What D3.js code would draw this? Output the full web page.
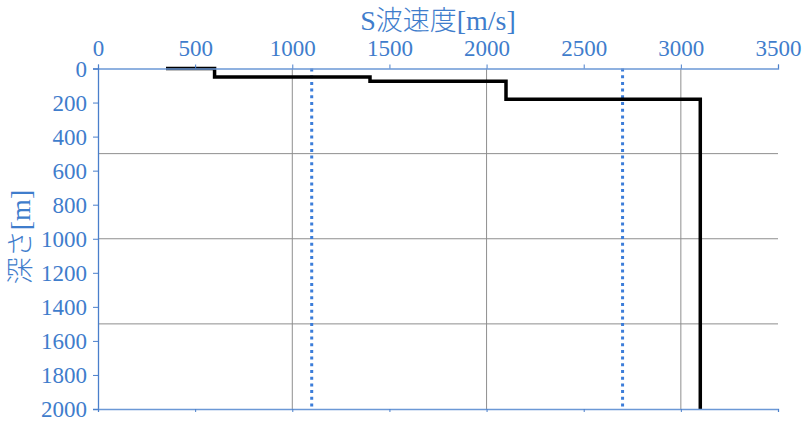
<!DOCTYPE html>
<html><head><meta charset="utf-8">
<script src="https://cdn.jsdelivr.net/npm/d3@7/dist/d3.min.js"></script>
<style>
body{margin:0;background:#fff;} svg{display:block;}
</style>
</head><body>
<svg id="c" width="810" height="426"></svg>
<script>
// Step profile: S-wave velocity [m/s] vs depth [m]
const velocity = [350, 600, 600, 1400, 1400, 2100, 2100, 3100, 3100];
const depth    = [0,   0,   50,  50,   75,   75,   180,  180,  2000];
// Reference velocities (dotted vertical lines)
const refVelocity = [1100, 2700];
const xTicks = [0, 500, 1000, 1500, 2000, 2500, 3000, 3500];
const yTicks = [0, 200, 400, 600, 800, 1000, 1200, 1400, 1600, 1800, 2000];
const xGrid = [1000, 2000, 3000];
const yGrid = [500, 1000, 1500];
const xTitleParts = ["S", "波速度", "[m/s]"];
const yTitleParts = ["深さ", "[m]"];

(function () {
const svg = d3.select("#c");
const L = 98, R = 778, T = 68.5, B = 409;
const x = d3.scaleLinear().domain([0, 3500]).range([L, R]);
const y = d3.scaleLinear().domain([0, 2000]).range([T, B]);
const blue = "#4a7fcb", txt = "#3f7dcc";
const serif = "Liberation Serif";
const cjk = "Noto Sans CJK JP";

// gridlines
svg.append("g").selectAll("line").data(xGrid).join("line")
  .attr("x1", d => x(d)).attr("x2", d => x(d)).attr("y1", T).attr("y2", B)
  .attr("stroke", "#8e8e8e").attr("stroke-width", 1);
svg.append("g").selectAll("line").data(yGrid).join("line")
  .attr("x1", L).attr("x2", R).attr("y1", d => y(d)).attr("y2", d => y(d))
  .attr("stroke", "#8e8e8e").attr("stroke-width", 1);

// dotted reference lines
svg.append("g").selectAll("line").data(refVelocity).join("line")
  .attr("x1", d => x(d)).attr("x2", d => x(d)).attr("y1", T).attr("y2", B)
  .attr("stroke", "#3c7dd9").attr("stroke-width", 3).attr("stroke-dasharray", "3,3.7");

// step line
const pts = velocity.map((v, i) => [v, depth[i]]);
svg.append("path").datum(pts)
  .attr("d", d3.line().x(d => x(d[0])).y(d => y(d[1])))
  .attr("fill", "none").attr("stroke", "#000").attr("stroke-width", 3.5)
  .attr("stroke-linejoin", "miter");

// axes
const gTop = svg.append("g").attr("transform", `translate(0,${T})`)
  .call(d3.axisTop(x).tickValues(xTicks).tickSize(4).tickPadding(9).tickFormat(d3.format("d")));
const gLeft = svg.append("g").attr("transform", `translate(${L},0)`)
  .call(d3.axisLeft(y).tickValues(yTicks).tickSize(5).tickPadding(6).tickFormat(d3.format("d")));
const gBottom = svg.append("g").attr("transform", `translate(0,${B})`)
  .call(d3.axisBottom(x).tickValues(xTicks).tickSize(3).tickFormat(""));
[gTop, gLeft, gBottom].forEach(g => {
  g.attr("font-family", serif);
  g.select(".domain").attr("stroke", blue).attr("stroke-width", 1.3);
  g.selectAll(".tick line").attr("stroke", blue).attr("stroke-width", 1);
  g.selectAll(".tick text").attr("fill", txt).attr("font-size", 23);
});
gTop.select(".domain").attr("stroke", "#6b98d6");
gBottom.select(".domain").attr("stroke", "#6b98d6");
gLeft.selectAll(".tick text").attr("dy", "0.34em");

// titles
const xt = svg.append("text").attr("x", 438).attr("y", 30).attr("text-anchor", "middle")
  .attr("fill", txt);
xt.selectAll("tspan").data(xTitleParts).join("tspan")
  .attr("font-family", (d, i) => i === 1 ? cjk : serif)
  .attr("font-weight", (d, i) => i === 1 ? 300 : 400)
  .attr("font-size", (d, i) => i === 1 ? 27 : 28)
  .text(d => d);
const yt = svg.append("text").attr("transform", "translate(30,237) rotate(-90)").attr("text-anchor", "middle")
  .attr("fill", txt);
yt.selectAll("tspan").data(yTitleParts).join("tspan")
  .attr("font-family", (d, i) => i === 0 ? cjk : serif)
  .attr("font-weight", (d, i) => i === 0 ? 300 : 400)
  .attr("font-size", (d, i) => i === 0 ? 27 : 28)
  .text(d => d);
})();
</script>
</body></html>
